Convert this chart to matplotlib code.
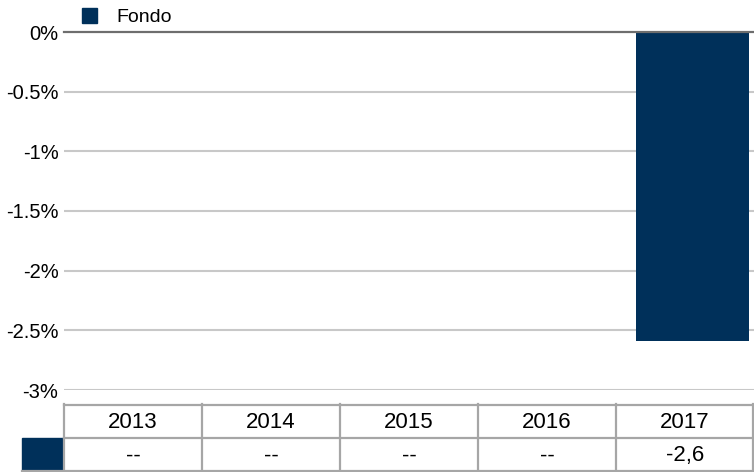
import matplotlib.pyplot as plt
import numpy as np

plt.rcParams["font.family"] = ["Liberation Sans", "DejaVu Sans"]

years = ["2013", "2014", "2015", "2016", "2017"]
fondo = [np.nan, np.nan, np.nan, np.nan, -2.59]
fondo_labels = ["--", "--", "--", "--", "-2,6"]
yticks = [0, -0.5, -1, -1.5, -2, -2.5, -3]
ytick_labels = ["0%", "-0.5%", "-1%", "-1.5%", "-2%", "-2.5%", "-3%"]

navy = "#00305a"
grid_color = "#c8c8c8"
table_color = "#a6a6a6"

W, H = 754, 472
fig = plt.figure(figsize=(W / 100, H / 100), dpi=100)

# plot area in pixel coordinates
px0, px1 = 64, 754
py_top, py_bot = 32, 390
ax = fig.add_axes([px0 / W, (H - py_bot) / H, (px1 - px0) / W, (py_bot - py_top) / H])

x = np.arange(len(years))
ax.bar(x + 0.055, fondo, width=0.82, color=navy, zorder=3)
ax.set_xlim(-0.5, len(years) - 0.5)
ax.set_ylim(-3, 0)
ax.set_yticks(yticks)
ax.set_yticklabels(ytick_labels, fontsize=14.5)
ax.set_xticks([])
ax.tick_params(axis="y", length=0, pad=4)
for s in ax.spines.values():
    s.set_visible(False)
for t in yticks:
    if t != 0:
        ax.axhline(t, color=grid_color, lw=1.5, zorder=1)
ax.axhline(0, color="#6e6e6e", lw=1.6, zorder=4, clip_on=False)

# legend
fig.patches.append(plt.Rectangle((82 / W, (H - 23) / H), 15 / W, 15 / H,
                                 transform=fig.transFigure, color=navy))
fig.text(116 / W, (H - 18) / H, "Fondo", fontsize=14, va="center", ha="left")

# data table below the plot
tax = fig.add_axes([0, 0, 1, (H - 404) / H])
tax.set_xlim(0, W)
tax.set_ylim(H, 404)
tax.axis("off")
col_w = (px1 - px0) / len(years)
r0, r1, r2 = 404, 438, 472
lw = 1.6
tax.plot([px0, px1], [r0 + 0.8, r0 + 0.8], color=table_color, lw=lw, clip_on=False)
tax.plot([px0, px1], [r1, r1], color=table_color, lw=lw, clip_on=False)
tax.plot([22, px1], [r2 - 0.8, r2 - 0.8], color=table_color, lw=lw, clip_on=False)
for i in range(len(years) + 1):
    xx = px0 + i * col_w
    if i == len(years):
        xx -= 0.8
    tax.plot([xx, xx], [r0, r2], color=table_color, lw=lw, clip_on=False)
tax.add_patch(plt.Rectangle((22, r1), px0 - 1 - 22, r2 - r1, color=navy))
for i, (yr, lab) in enumerate(zip(years, fondo_labels)):
    cx = px0 + (i + 0.5) * col_w
    tax.text(cx, (r0 + r1) / 2 + 1, yr, ha="center", va="center", fontsize=16)
    tax.text(cx, (r1 + r2) / 2 + 1, lab, ha="center", va="center", fontsize=16)

fig.savefig("out.png", dpi=100)
